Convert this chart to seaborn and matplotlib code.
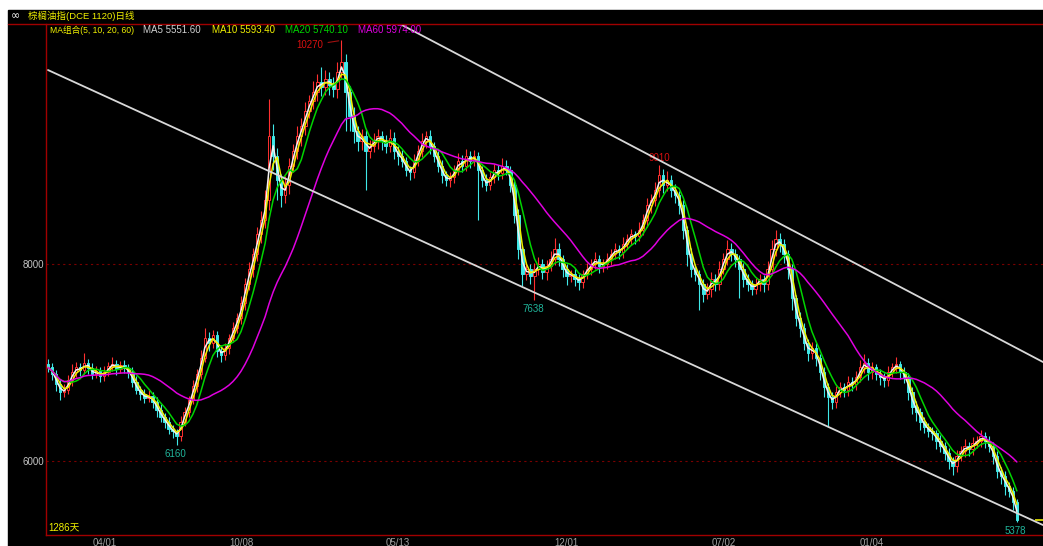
import matplotlib
matplotlib.use('Agg')

import numpy as np
import pandas as pd
import matplotlib.pyplot as plt
from matplotlib.lines import Line2D
import seaborn as sns

# one candle here stands for roughly 4 trading days of the original chart
closes = [
    6950, 6880, 6780, 6700, 6720, 6820, 6900, 6950, 6920, 7000,
    6940, 6880, 6910, 6860, 6900, 6960, 6990, 6930, 6970, 6940,
    6900, 6800, 6720, 6680, 6640, 6660, 6600, 6520, 6450, 6400,
    6330, 6300, 6250, 6400, 6500, 6620, 6760, 6880, 7050, 7250,
    7200, 7280, 7120, 7080, 7150, 7250, 7350, 7450, 7600, 7800,
    7950, 8100, 8300, 8450, 8650, 9300, 9100, 8850, 8700, 8800,
    9000, 9150, 9300, 9400, 9550, 9650, 9750, 9850, 9800, 9880,
    9820, 9780, 9950, 10050, 9750, 9500, 9350, 9250, 9300, 9150,
    9200, 9250, 9300, 9250, 9200, 9280, 9150, 9100, 9050, 8950,
    8930, 9050, 9150, 9250, 9300, 9200, 9100, 9000, 8900, 8850,
    8880, 8950, 9050, 9000, 9100, 9050, 9100, 8950, 8850, 8800,
    8880, 8950, 8920, 9000, 8950, 8800, 8500, 8150, 7900, 7950,
    7880, 7950, 8000, 7920, 7980, 8050, 8150, 8050, 7950, 7880,
    7900, 7850, 7820, 7900, 7950, 8000, 8050, 7980, 8000, 8050,
    8100, 8150, 8120, 8200, 8250, 8300, 8280, 8350, 8450, 8600,
    8650, 8750, 8900, 8800, 8850, 8750, 8700, 8600, 8350, 8100,
    7950, 7900, 7800, 7700, 7750, 7850, 7800, 7950, 8050, 8150,
    8100, 8050, 7950, 7850, 7800, 7750, 7800, 7850, 7800, 7950,
    8150, 8250, 8200, 8100, 7950, 7650, 7450, 7350, 7200, 7100,
    7150, 7050, 6900, 6750, 6650, 6600, 6700, 6750, 6720, 6800,
    6780, 6850, 6950, 7000, 6900, 6950, 6880, 6850, 6820, 6900,
    6950, 6980, 6900, 6850, 6700, 6550, 6500, 6400, 6350, 6300,
    6280, 6200, 6150, 6080, 6000, 5950, 6050, 6100, 6150, 6120,
    6180, 6200, 6250, 6200, 6150, 6050, 5900, 5850, 5750, 5700,
    5580, 5400,
]
first_open = 6980

wick_up = [
    60, 50, 40, 50, 60, 50, 80, 60, 50, 100,
    40, 60, 50, 40, 60, 50, 70, 40, 50, 60,
    40, 50, 60, 40, 50, 60, 40, 50, 60, 40,
    50, 40, 30, 60, 50, 40, 60, 50, 80, 100,
    60, 50, 40, 60, 50, 40, 60, 50, 80, 60,
    70, 60, 80, 90, 100, 380, 120, 80, 60, 90,
    80, 70, 100, 80, 90, 70, 110, 80, 150, 90,
    70, 80, 100, 220, 80, 60, 90, 50, 70, 60,
    60, 80, 70, 50, 60, 90, 60, 50, 60, 40,
    50, 70, 60, 80, 50, 60, 40, 50, 60, 40,
    50, 60, 80, 60, 70, 50, 60, 40, 50, 60,
    50, 70, 60, 80, 60, 40, 50, 60, 40, 70,
    50, 60, 70, 50, 60, 80, 110, 60, 40, 50,
    40, 60, 50, 40, 60, 50, 70, 40, 50, 60,
    50, 60, 40, 70, 50, 60, 40, 80, 60, 70,
    60, 80, 110, 60, 90, 50, 60, 40, 50, 40,
    60, 50, 40, 50, 60, 70, 50, 80, 60, 90,
    60, 50, 40, 60, 50, 40, 60, 50, 40, 80,
    90, 100, 60, 50, 40, 50, 40, 60, 50, 40,
    60, 50, 40, 50, 40, 50, 60, 50, 40, 60,
    50, 60, 80, 90, 50, 60, 40, 50, 40, 60,
    50, 80, 40, 50, 40, 50, 60, 40, 50, 40,
    50, 40, 60, 40, 50, 40, 60, 50, 70, 40,
    60, 50, 70, 40, 50, 40, 50, 40, 50, 40,
    40, 30,
]

wick_dn = [
    50, 60, 70, 80, 50, 40, 60, 50, 60, 40,
    60, 50, 40, 60, 50, 40, 50, 60, 40, 50,
    60, 50, 40, 60, 50, 40, 60, 70, 50, 60,
    60, 70, 90, 50, 40, 50, 40, 60, 50, 40,
    80, 50, 60, 70, 50, 60, 40, 50, 60, 70,
    60, 80, 70, 90, 80, 100, 150, 200, 120, 80,
    90, 70, 80, 100, 90, 70, 80, 100, 90, 80,
    100, 80, 90, 70, 400, 150, 120, 100, 90, 400,
    70, 60, 80, 90, 70, 60, 80, 90, 70, 60,
    80, 60, 50, 60, 70, 80, 60, 70, 80, 60,
    70, 60, 50, 70, 60, 80, 60, 500, 70, 60,
    50, 60, 70, 60, 50, 70, 80, 100, 120, 60,
    80, 242, 60, 70, 80, 50, 60, 70, 80, 90,
    60, 70, 80, 60, 50, 60, 50, 70, 60, 50,
    60, 50, 70, 60, 50, 60, 80, 50, 60, 70,
    80, 60, 70, 80, 60, 70, 80, 90, 100, 120,
    80, 70, 270, 90, 60, 80, 70, 60, 50, 60,
    70, 80, 300, 80, 70, 60, 50, 70, 80, 60,
    60, 70, 80, 90, 100, 120, 80, 90, 70, 80,
    60, 90, 80, 100, 300, 70, 60, 50, 70, 60,
    70, 60, 50, 60, 80, 70, 60, 80, 70, 60,
    50, 60, 70, 60, 80, 70, 90, 80, 70, 60,
    70, 80, 60, 70, 80, 90, 60, 50, 60, 70,
    60, 50, 60, 70, 60, 80, 70, 80, 90, 70,
    80, 22,
]

# candle indices of the marked highs / lows
mark_high = [73, 152]
mark_low = [32, 121, 241]

tick_pos = [14, 48, 87, 129, 168, 205]
tick_labels = ['04/01', '10/08', '05/13', '12/01', '07/02', '01/04']

# trend channel, (candle index, price)
chan_upper_x = [80, 247.5]
chan_upper_y = [10599, 7005]
chan_lower_x = [0, 247.5]
chan_lower_y = [9969, 5350]

title = '棕榈油指(DCE 1120)日线'
ma_header = ['MA组合(5, 10, 20, 60)', 'MA5 5551.60', 'MA10 5593.40',
             'MA20 5740.10', 'MA60 5974.00']
days_label = '1286天'

# windows in candles (each candle ~ 4 days)
ma_windows = {'MA5': 2, 'MA10': 3, 'MA20': 6, 'MA60': 20}
ma_colors = {'MA5': '#f2f2f2', 'MA10': '#f0f000', 'MA20': '#00d400', 'MA60': '#e000e0'}
up_color = '#ff3030'
dn_color = '#40e8e8'
frame_red = '#a00000'

n = len(closes)
df = pd.DataFrame({'idx': np.arange(n), 'close': closes})
df['open'] = [first_open] + closes[:-1]
df['high'] = np.maximum(df['open'], df['close']) + np.array(wick_up)
df['low'] = np.minimum(df['open'], df['close']) - np.array(wick_dn)
for name, w in ma_windows.items():
    df[name] = df['close'].rolling(w, min_periods=1).mean()

sns.set_style('dark')
plt.rcParams['font.family'] = ['Liberation Sans', 'Noto Sans CJK SC', 'DejaVu Sans']

W, H = 1043, 546
fig = plt.figure(figsize=(W / 100, H / 100), dpi=100, facecolor='white')


def fx(px):
    return px / W


def fy(py):
    return 1 - py / H


fig.add_artist(plt.Rectangle((fx(8), 0), 1 - fx(8), fy(10), transform=fig.transFigure,
                             color='black', zorder=-10))
ax = fig.add_axes([fx(46), fy(535), 1 - fx(46), (535 - 24) / H])
ax.set_facecolor('black')
ax.set_xlim(-0.5, 247.5)
ax.set_ylim(5249, 10436.5)

for s in ['top', 'right']:
    ax.spines[s].set_visible(False)
for s in ['left', 'bottom']:
    ax.spines[s].set_color(frame_red)
    ax.spines[s].set_linewidth(1)

ax.set_yticks([6000, 8000])
ax.set_yticklabels(['6000', '8000'])
ax.tick_params(axis='y', length=0, pad=1, labelsize=7, labelcolor='#c4c4c4')
ax.set_xticks(tick_pos)
ax.set_xticklabels(tick_labels)
ax.tick_params(axis='x', length=0, pad=2, labelsize=7, labelcolor='#a0a0a0')
ax.grid(False)
ax.yaxis.grid(True, color='#7a0000', linestyle=(0, (2, 3)), linewidth=0.8)

# candles
up = df['close'] >= df['open']
for mask, color, face in [(up, up_color, 'black'), (~up, dn_color, dn_color)]:
    d = df[mask]
    ax.vlines(d['idx'], d['low'], d['high'], color=color, lw=0.8, zorder=2)
    body = (d['close'] - d['open']).abs().clip(lower=8)
    ax.bar(d['idx'], body, bottom=np.minimum(d['open'], d['close']), width=0.6,
           facecolor=face, edgecolor=color, linewidth=0.7, zorder=3)

# moving averages
for name, color in ma_colors.items():
    sns.lineplot(data=df, x='idx', y=name, color=color, lw=1.1, ax=ax, zorder=4, legend=False)
ax.set_xlabel('')
ax.set_ylabel('')

# channel
ax.plot(chan_upper_x, chan_upper_y, color='#d8d8d8', lw=1.3, zorder=5)
ax.plot(chan_lower_x, chan_lower_y, color='#d8d8d8', lw=1.3, zorder=5)

# last price marker
ax.hlines(df['close'].iloc[-1], 245.5, 247.5, color='#e8e800', lw=1.2, zorder=5)

# marked extremes
for i in mark_high:
    v = df['high'].iloc[i]
    if i == 73:
        ax.annotate(f'{v:.0f}', xy=(i, v), xytext=(-13, -3.5), textcoords='offset points',
                    ha='right', va='center', fontsize=7, color='#d81010',
                    arrowprops=dict(arrowstyle='-', color='#a01010', lw=0.8, shrinkA=1, shrinkB=2))
    else:
        ax.annotate(f'{v:.0f}', xy=(i, v), xytext=(0, 5), textcoords='offset points',
                    ha='center', va='center', fontsize=7, color='#d81010')
for i in mark_low:
    v = df['low'].iloc[i]
    ax.annotate(f'{v:.0f}', xy=(i, v), xytext=(-1, -6.5), textcoords='offset points',
                ha='center', va='center', fontsize=7, color='#20b49a')

# header
fig.add_artist(Line2D([fx(8), 1], [fy(24), fy(24)], color=frame_red, lw=1))
fig.text(fx(11), fy(16), '∞', color='white', fontsize=8, va='center', family='DejaVu Sans')
fig.text(fx(28), fy(16), title, color='#f0f000', fontsize=6.8, va='center')
header_x = [50, 143, 212, 285, 358]
header_c = ['#f0f000', '#d0d0d0', ma_colors['MA10'], ma_colors['MA20'], ma_colors['MA60']]
header_fs = [6.2, 7, 7, 7, 7]
for text, px, c, fs in zip(ma_header, header_x, header_c, header_fs):
    fig.text(fx(px), fy(30), text, color=c, fontsize=fs, va='center')
fig.text(fx(48), fy(528), days_label, color='#f0f000', fontsize=7, va='center')

fig.savefig('out.png', dpi=100, facecolor='white')
